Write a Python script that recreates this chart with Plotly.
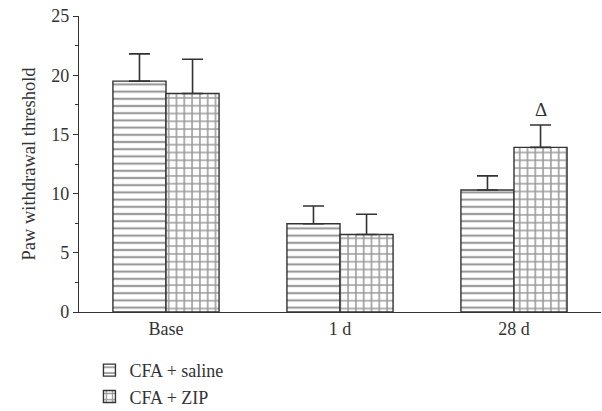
import plotly.graph_objects as go

categories = ["Base", "1 d", "28 d"]
saline_mean = [19.5, 7.45, 10.3]
saline_err = [2.3, 1.5, 1.2]
zip_mean = [18.45, 6.55, 13.9]
zip_err = [2.9, 1.7, 1.9]
y_ticks = [0, 5, 10, 15, 20, 25]

ink = "#333333"
font_family = "Liberation Serif"

fig = go.Figure()
fig.add_trace(go.Bar(
    name="CFA + saline", x=categories, y=saline_mean,
    marker=dict(color="white", line=dict(color=ink, width=1.4),
                pattern=dict(shape="-", size=7.2, solidity=0.3, fgcolor=ink, bgcolor="white")),
    error_y=dict(type="data", symmetric=False, array=saline_err, arrayminus=[0, 0, 0],
                 color=ink, thickness=1.6, width=10.5),
))
fig.add_trace(go.Bar(
    name="CFA + ZIP", x=categories, y=zip_mean,
    marker=dict(color="white", line=dict(color=ink, width=1.4),
                pattern=dict(shape="+", size=7.8, solidity=0.36, fgcolor=ink, bgcolor="white")),
    error_y=dict(type="data", symmetric=False, array=zip_err, arrayminus=[0, 0, 0],
                 color=ink, thickness=1.6, width=10.5),
))

fig.add_annotation(x=categories[2], y=zip_mean[2] + zip_err[2], text="Δ", showarrow=False,
                   xshift=26.5, yshift=3, yanchor="bottom",
                   font=dict(family=font_family, size=19, color=ink))

fig.update_layout(
    width=602, height=411,
    margin=dict(l=79, r=1, t=16, b=99, autoexpand=False),
    paper_bgcolor="white", plot_bgcolor="white",
    barmode="group", bargap=0.39, bargroupgap=0,
    font=dict(family=font_family, size=18, color=ink),
    showlegend=True,
    legend=dict(x=0.02, y=-0.135, xanchor="left", yanchor="top", orientation="v",
                font=dict(family=font_family, size=18, color=ink),
                tracegroupgap=0, itemwidth=30, bgcolor="rgba(0,0,0,0)"),
    xaxis=dict(range=[-0.5, 2.5], showline=True, linecolor=ink, linewidth=1.4,
               ticks="", showgrid=False, zeroline=False, automargin=False,
               tickfont=dict(family=font_family, size=18, color=ink)),
    yaxis=dict(range=[0, 25], tickvals=y_ticks, showline=True, linecolor=ink, linewidth=1.4,
               ticks="outside", ticklen=5, tickwidth=1.3, tickcolor=ink,
               minor=dict(dtick=2.5, ticks="outside", ticklen=3, tickwidth=1.3, tickcolor=ink),
               showgrid=False, zeroline=False, automargin=False,
               title=dict(text="Paw withdrawal threshold", standoff=10,
                          font=dict(family=font_family, size=18.5, color=ink)),
               tickfont=dict(family=font_family, size=18, color=ink)),
)

fig.write_html("out.html", config={"displayModeBar": False},
               post_script="document.body.style.margin='0';")
